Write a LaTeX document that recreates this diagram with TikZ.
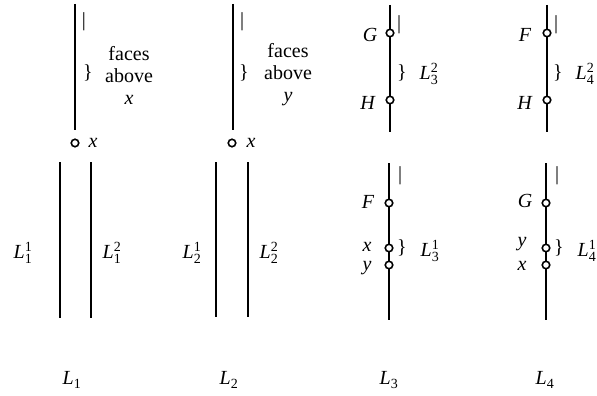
\documentclass[tikz,border=0pt]{standalone}
\usepackage{amsmath}
\usepackage{fontspec}
\setmainfont{Liberation Serif}
\newcommand{\Lab}[2]{$\textit{L}^{\text{#1}}_{\text{#2}}$}
\newcommand{\Lsub}[1]{$\textit{L}_{\text{#1}}$}
\begin{document}
\begin{tikzpicture}[x=1pt,y=-1pt,
  bar/.style={line width=1.9pt},
  dot/.style={circle,draw,line width=1.6pt,fill=white,inner sep=0pt,minimum size=7.5pt},
  lbl/.style={font=\fontsize{20}{22}\selectfont,inner sep=0pt},
  blk/.style={lbl,align=center}]
\useasboundingbox (0,0) rectangle (597,396);

% ---------- L1 ----------
\coordinate (a1t) at (75,4); \coordinate (a1b) at (75,130);
\draw[bar] (a1t) -- (a1b);
\node[dot] (p1x) at (75,143) {};
\node[lbl] (p1xl) at (93,143) {\textit{x}};
\node[lbl] (p1bar) at (84,22) {|};
\node[lbl] (p1br) at (88,73) {\}};
\node[blk] (p1txt) at (129,75) {faces\\above\\\textit{x}};
\coordinate (a1lt) at (60,162); \coordinate (a1lb) at (60,318);
\coordinate (a1rt) at (91,162); \coordinate (a1rb) at (91,318);
\draw[bar] (a1lt) -- (a1lb);
\draw[bar] (a1rt) -- (a1rb);
\node[lbl] (L11) at (23,253) {\Lab{1}{1}};
\node[lbl] (L12) at (112,253) {\Lab{2}{1}};
\node[lbl] (L1) at (72,380) {\Lsub{1}};

% ---------- L2 ----------
\coordinate (a2t) at (233,4); \coordinate (a2b) at (233,130);
\draw[bar] (a2t) -- (a2b);
\node[dot] (p2x) at (232,143) {};
\node[lbl] (p2xl) at (251,143) {\textit{x}};
\node[lbl] (p2bar) at (242,22) {|};
\node[lbl] (p2br) at (244,73) {\}};
\node[blk] (p2txt) at (288,75) {faces\\above\\\textit{y}};
\coordinate (a2lt) at (216,162); \coordinate (a2lb) at (216,317);
\coordinate (a2rt) at (248,162); \coordinate (a2rb) at (248,317);
\draw[bar] (a2lt) -- (a2lb);
\draw[bar] (a2rt) -- (a2rb);
\node[lbl] (L21) at (192,253) {\Lab{1}{2}};
\node[lbl] (L22) at (269,253) {\Lab{2}{2}};
\node[lbl] (L2) at (229,380) {\Lsub{2}};

% ---------- L3 ----------
\coordinate (a3t) at (390,5); \coordinate (a3b) at (390,132);
\draw[bar] (a3t) -- (a3b);
\node[dot] (p3G) at (390,33) {};
\node[dot] (p3H) at (390,100) {};
\node[lbl] (p3Gl) at (370,35) {\textit{G}};
\node[lbl] (p3Hl) at (368,103) {\textit{H}};
\node[lbl] (p3bar) at (399,25) {|};
\node[lbl] (p3br) at (402,73) {\}};
\node[lbl] (L32) at (429,74) {\Lab{2}{3}};
\coordinate (b3t) at (389,163); \coordinate (b3b) at (389,320);
\draw[bar] (b3t) -- (b3b);
\node[lbl] (q3bar) at (400,176) {|};
\node[dot] (q3F) at (389,203) {};
\node[dot] (q3x) at (389,248) {};
\node[dot] (q3y) at (389,265) {};
\node[lbl] (q3Fl) at (368,202) {\textit{F}};
\node[lbl] (q3xl) at (367,247) {\textit{x}};
\node[lbl] (q3yl) at (367,268) {\textit{y}};
\node[lbl] (q3br) at (402,248) {\}};
\node[lbl] (L31) at (430,251) {\Lab{1}{3}};
\node[lbl] (L3) at (389,380) {\Lsub{3}};

% ---------- L4 ----------
\coordinate (a4t) at (547,5); \coordinate (a4b) at (547,132);
\draw[bar] (a4t) -- (a4b);
\node[dot] (p4F) at (547,33) {};
\node[dot] (p4H) at (547,100) {};
\node[lbl] (p4Fl) at (525,35) {\textit{F}};
\node[lbl] (p4Hl) at (525,103) {\textit{H}};
\node[lbl] (p4bar) at (556,25) {|};
\node[lbl] (p4br) at (558,73) {\}};
\node[lbl] (L42) at (585,74) {\Lab{2}{4}};
\coordinate (b4t) at (546,163); \coordinate (b4b) at (546,320);
\draw[bar] (b4t) -- (b4b);
\node[lbl] (q4bar) at (557,176) {|};
\node[dot] (q4G) at (546,203) {};
\node[dot] (q4y) at (546,248) {};
\node[dot] (q4x) at (546,265) {};
\node[lbl] (q4Gl) at (525,201) {\textit{G}};
\node[lbl] (q4yl) at (522,244) {\textit{y}};
\node[lbl] (q4xl) at (522,266) {\textit{x}};
\node[lbl] (q4br) at (559,248) {\}};
\node[lbl] (L41) at (587,251) {\Lab{1}{4}};
\node[lbl] (L4) at (545,380) {\Lsub{4}};
\end{tikzpicture}
\end{document}
